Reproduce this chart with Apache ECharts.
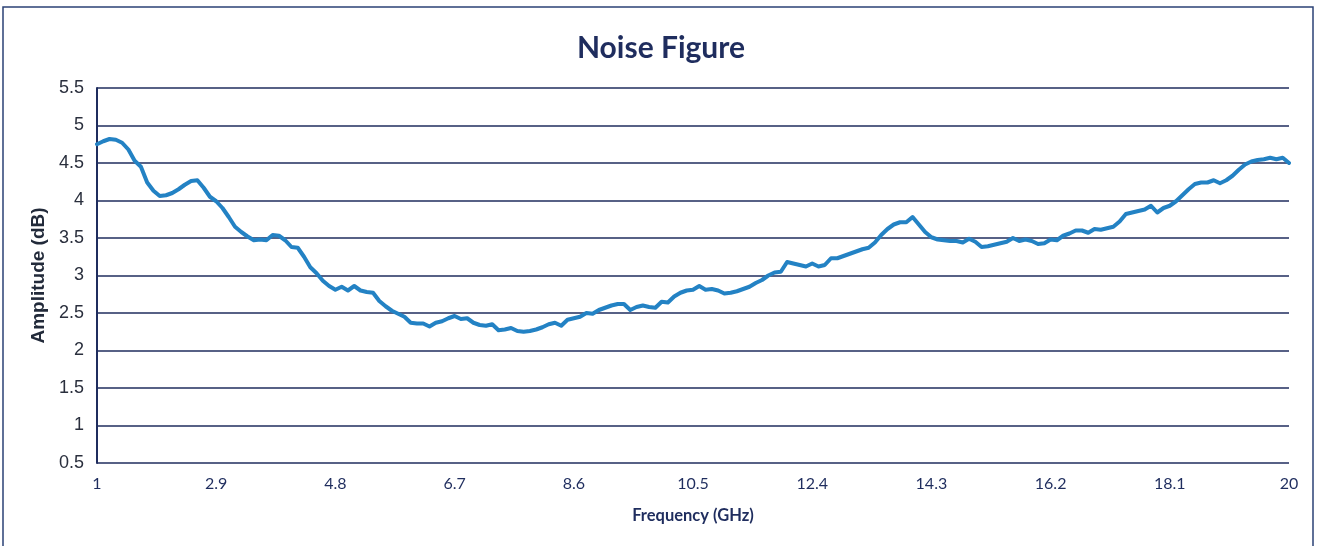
<!DOCTYPE html>
<html>
<head>
<meta charset="utf-8">
<script src="https://cdn.jsdelivr.net/npm/echarts@6/dist/echarts.min.js"></script>
<style>
html,body{margin:0;padding:0;background:#ffffff;}
#chart{width:1322px;height:546px;}
</style>
</head>
<body>
<div id="chart"></div>
<script>
// Frequency grid (GHz) used as category axis: 1.0 .. 20.0 in 0.1 steps
const categories = [];
for (let i = 0; i <= 190; i++) categories.push(String((10 + i) / 10));

// Noise figure readings (GHz, dB)
const freqs = [
  1.0,1.1,1.2,1.3,1.4,1.5,1.6,1.7,1.8,1.9,
  2.0,2.1,2.2,2.3,2.4,2.5,2.6,2.7,2.8,2.9,
  3.0,3.1,3.2,3.3,3.4,3.5,3.6,3.7,3.8,3.9,
  4.0,4.1,4.2,4.3,4.4,4.5,4.6,4.7,4.8,4.9,
  5.0,5.1,5.2,5.3,5.4,5.5,5.6,5.7,5.8,5.9,
  6.0,6.1,6.2,6.3,6.4,6.5,6.6,6.7,6.8,6.9,
  7.0,7.1,7.2,7.3,7.4,7.5,7.6,7.7,7.8,7.9,
  8.0,8.1,8.2,8.3,8.4,8.5,8.6,8.7,8.8,8.9,
  9.0,9.1,9.2,9.3,9.4,9.5,9.6,9.7,9.8,9.9,
  10.0,10.1,10.2,10.3,10.4,10.5,10.6,10.7,10.8,10.9,
  11.0,11.1,11.2,11.3,11.4,11.5,11.6,11.7,11.8,11.9,
  12.0,12.1,12.2,12.3,12.4,12.5,12.6,12.7,12.8,12.9,
  13.0,13.1,13.2,13.3,13.4,13.5,13.6,13.7,13.8,13.9,
  14.0,14.1,14.2,14.3,14.4,14.5,14.6,14.7,14.8,14.9,
  15.0,15.1,15.2,15.3,15.4,15.5,15.6,15.7,15.8,15.9,
  16.0,16.1,16.2,16.3,16.4,16.5,16.6,16.7,16.8,16.9,
  17.0,17.1,17.2,17.3,17.4,17.5,17.6,17.7,17.8,17.9,
  18.0,18.1,18.2,18.3,18.4,18.5,18.6,18.7,18.8,18.9,
  19.0,19.1,19.2,19.3,19.4,19.5,19.6,19.7,19.8,19.9,
  20.0
];
const noiseFigure = [
  4.75,4.79,4.82,4.81,4.77,4.68,4.53,4.45,4.24,4.13,
  4.06,4.07,4.10,4.15,4.21,4.26,4.27,4.17,4.05,3.99,
  3.90,3.78,3.65,3.58,3.52,3.47,3.48,3.47,3.54,3.53,
  3.47,3.38,3.37,3.25,3.11,3.03,2.93,2.86,2.81,2.85,
  2.80,2.86,2.80,2.78,2.77,2.66,2.59,2.53,2.49,2.45,
  2.37,2.36,2.36,2.32,2.37,2.39,2.43,2.46,2.42,2.43,
  2.37,2.34,2.33,2.35,2.27,2.28,2.30,2.26,2.25,2.26,
  2.28,2.31,2.35,2.37,2.33,2.41,2.43,2.45,2.50,2.49,
  2.54,2.57,2.60,2.62,2.62,2.54,2.58,2.60,2.58,2.57,
  2.65,2.64,2.72,2.77,2.80,2.81,2.86,2.81,2.82,2.80,
  2.76,2.77,2.79,2.82,2.85,2.90,2.94,3.00,3.04,3.05,
  3.18,3.16,3.14,3.12,3.16,3.12,3.14,3.23,3.23,3.26,
  3.29,3.32,3.35,3.37,3.44,3.54,3.62,3.68,3.71,3.71,
  3.78,3.68,3.58,3.51,3.48,3.47,3.46,3.46,3.44,3.49,
  3.45,3.38,3.39,3.41,3.43,3.45,3.50,3.46,3.48,3.46,
  3.42,3.43,3.48,3.47,3.53,3.56,3.60,3.60,3.57,3.62,
  3.61,3.63,3.65,3.72,3.82,3.84,3.86,3.88,3.93,3.84,
  3.90,3.93,3.99,4.07,4.15,4.22,4.24,4.24,4.27,4.23,
  4.27,4.33,4.41,4.48,4.52,4.54,4.55,4.57,4.55,4.57,
  4.50
];

const chartTitle = 'Noise Figure';
const xName = 'Frequency (GHz)';
const yName = 'Amplitude (dB)';

const seriesData = freqs.map((f, i) => [String(f), noiseFigure[i]]);

const navy = '#1f2d5e';
const chart = echarts.init(document.getElementById('chart'), null, {renderer: 'canvas'});
chart.setOption({
  backgroundColor: '#ffffff',
  animation: false,
  title: {
    text: chartTitle,
    left: 'center',
    top: 28,
    textStyle: {fontFamily: 'Lato', fontWeight: 'bold', fontSize: 30, color: navy}
  },
  graphic: [{
    type: 'rect',
    shape: {x: 3, y: 7, width: 1310, height: 560},
    style: {fill: 'none', stroke: '#2b4275', lineWidth: 1.5},
    silent: true
  }],
  grid: {left: 97, right: 33, top: 88, bottom: 83, containLabel: false},
  xAxis: {
    type: 'category',
    data: categories,
    boundaryGap: false,
    name: xName,
    nameLocation: 'middle',
    nameGap: 44,
    nameTextStyle: {fontFamily: 'Lato', fontWeight: 'bold', fontSize: 16.5, color: navy},
    axisLine: {show: false},
    axisTick: {show: false},
    splitLine: {show: false},
    axisLabel: {
      interval: 18,
      margin: 13,
      fontFamily: 'Lato',
      fontSize: 16,
      color: navy
    }
  },
  yAxis: {
    type: 'value',
    min: 0.5,
    max: 5.5,
    interval: 0.5,
    name: yName,
    nameLocation: 'middle',
    nameGap: 48,
    nameTextStyle: {fontFamily: 'Liberation Sans', fontWeight: 'bold', fontSize: 19, color: '#222a3a'},
    axisLine: {show: true, lineStyle: {color: navy, width: 2}},
    axisTick: {show: false},
    axisLabel: {
      margin: 13,
      fontFamily: 'Liberation Sans',
      fontSize: 18,
      color: '#2a2f3d'
    },
    splitLine: {show: true, lineStyle: {color: navy, width: 1.5}}
  },
  series: [{
    type: 'line',
    data: seriesData,
    showSymbol: false,
    symbol: 'none',
    smooth: false,
    lineStyle: {color: '#2382c4', width: 4, join: 'round', cap: 'round'},
    z: 5
  }]
});
</script>
</body>
</html>
